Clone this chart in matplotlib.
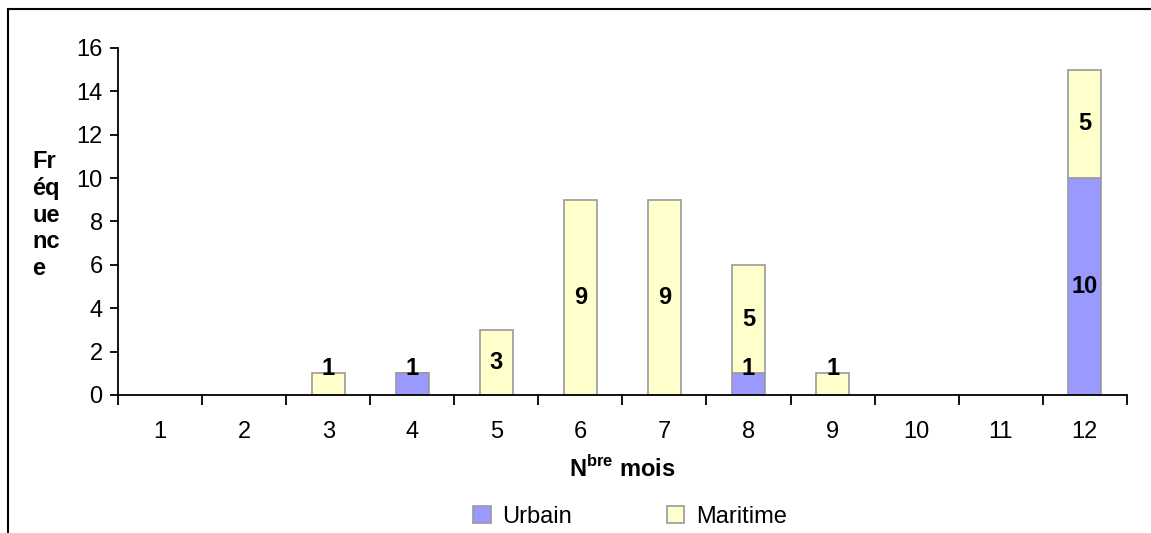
import matplotlib.pyplot as plt
import matplotlib.lines as mlines
import numpy as np

plt.rcParams['font.family'] = ['Liberation Sans', 'DejaVu Sans']

months = [1, 2, 3, 4, 5, 6, 7, 8, 9, 10, 11, 12]
# nan = no bar drawn at all, 0 = empty bar (only its edge shows)
urbain = [np.nan, np.nan, 0, 1, 0, 0, 0, 1, 0, np.nan, np.nan, 10]
maritime = [np.nan, np.nan, 1, 0, 3, 9, 9, 5, 1, np.nan, np.nan, 5]

BLUE = "#9999FF"
YELLOW = "#FFFFCC"
EDGE = "#999999"

fig = plt.figure(figsize=(11.51, 5.33), dpi=100)
ax = fig.add_axes([0.1025, 0.259, 0.8765, 0.651])

x = np.array(months)
u = np.array(urbain, dtype=float)
m = np.array(maritime, dtype=float)
w = 0.39

ax.bar(x, u, width=w, color=BLUE, edgecolor=EDGE, linewidth=1.2, label="Urbain")
ax.bar(x, m, width=w, bottom=np.nan_to_num(u), color=YELLOW, edgecolor=EDGE,
       linewidth=1.2, label="Maritime")

# value labels, small segments pushed up a little like Excel does
for xi, ui, mi in zip(x, u, m):
    if not np.isnan(ui) and ui > 0:
        ax.text(xi, max(ui / 2, 1.2), f"{int(ui)}", ha="center", va="center",
                fontsize=17, fontweight="bold")
    if not np.isnan(mi) and mi > 0:
        base = 0 if np.isnan(ui) else ui
        ax.text(xi, base + max(mi / 2, 1.2), f"{int(mi)}", ha="center",
                va="center", fontsize=17, fontweight="bold")

ax.set_xlim(0.5, 12.5)
ax.set_ylim(0, 16)
ax.set_yticks(range(0, 17, 2))
ax.set_xticks(months)
ax.set_xticks(np.arange(0.5, 13, 1), minor=True)
ax.tick_params(axis="x", which="major", length=0, pad=19, labelsize=17)
ax.tick_params(axis="x", which="minor", length=7, width=1.3, direction="out")
ax.tick_params(axis="y", length=6, width=1.3, direction="out", labelsize=17, pad=5)

for s in ["top", "right"]:
    ax.spines[s].set_visible(False)
ax.spines["left"].set_linewidth(1.3)
ax.spines["bottom"].set_linewidth(1.3)

ax.set_xlabel(r"N$^{\mathregular{bre}}$ mois", fontsize=17, fontweight="bold", labelpad=9)
fig.text(0.028, 1 - 215 / 533, "Fr\néq\nue\nnc\ne", fontsize=17, fontweight="bold",
         ha="left", va="center", linespacing=1.22)

handles, labels = ax.get_legend_handles_labels()
fig.legend(handles, labels, loc="center", bbox_to_anchor=(630 / 1151, 1 - 517 / 533),
           ncol=2, frameon=False, fontsize=17, handlelength=0.75, handleheight=0.75,
           handletextpad=0.5, columnspacing=4.0)

# outer frame (cropped on the right and at the bottom)
fig.add_artist(mlines.Line2D([8 / 1151, 1.0], [1 - 9 / 533, 1 - 9 / 533],
                             color="black", linewidth=1.5, transform=fig.transFigure))
fig.add_artist(mlines.Line2D([8 / 1151, 8 / 1151], [0, 1 - 9 / 533],
                             color="black", linewidth=1.5, transform=fig.transFigure))

fig.savefig("out.png", dpi=100)
